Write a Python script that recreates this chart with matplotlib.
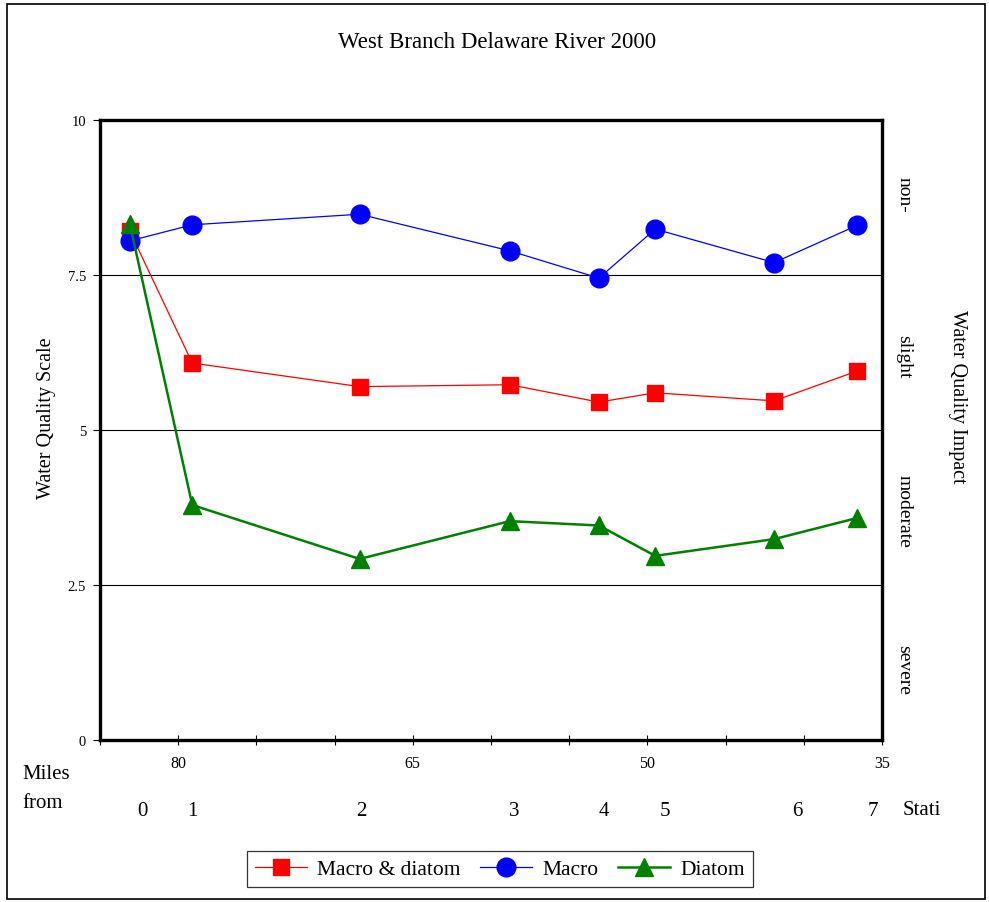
import matplotlib
matplotlib.use("Agg")
import matplotlib.pyplot as plt
from matplotlib.patches import Rectangle
import matplotlib.transforms as mtransforms

plt.rcParams['font.family'] = ['Liberation Serif', 'DejaVu Serif']

# ---- data ----
miles = [83.1, 79.1, 68.4, 58.8, 53.1, 49.5, 41.9, 36.6]
macro_diatom = [8.21, 6.08, 5.70, 5.73, 5.45, 5.60, 5.47, 5.95]
macro = [8.05, 8.31, 8.48, 7.89, 7.45, 8.24, 7.70, 8.30]
diatom = [8.33, 3.79, 2.92, 3.53, 3.46, 2.97, 3.24, 3.58]
stations = ['0', '1', '2', '3', '4', '5', '6', '7']
station_label_miles = [82.3, 79.1, 68.3, 58.5, 52.8, 48.9, 40.4, 35.6]
x_ticks = [85, 80, 75, 70, 65, 60, 55, 50, 45, 40, 35]
x_labels = ['', '80', '', '', '65', '', '', '50', '', '', '35']
y_ticks = [0, 2.5, 5, 7.5, 10]
y_labels = ['0', '2.5', '5', '7.5', '10']
impact_labels = ['non-', 'slight', 'moderate', 'severe']
impact_y = [8.8, 6.2, 3.7, 1.15]

fig = plt.figure(figsize=(9.89, 9.03), dpi=100)
fig.patches.append(Rectangle((7/989, 3/903), 978/989, 895/903, transform=fig.transFigure,
                             fill=False, edgecolor='black', linewidth=1.2))

ax = fig.add_axes([100/989, 1-741/903, 782/989, 620/903])
ax.set_xlim(85, 35)
ax.set_ylim(0, 10)

for yv in [2.5, 5, 7.5]:
    ax.axhline(yv, color='black', linewidth=0.8, zorder=1)

ax.plot(miles, macro_diatom, color='red', linewidth=0.9, marker='s', markersize=12,
        label='Macro & diatom', zorder=3)
ax.plot(miles, macro, color='blue', linewidth=0.9, marker='o', markersize=13.5,
        label='Macro', zorder=4)
ax.plot(miles, diatom, color='green', linewidth=1.8, marker='^', markersize=13,
        label='Diatom', zorder=5, clip_on=False)

for s in ax.spines.values():
    s.set_linewidth(2.4)

ax.set_xticks(x_ticks)
ax.set_xticklabels(x_labels, fontsize=11.5)
ax.set_yticks(y_ticks)
ax.set_yticklabels(y_labels, fontsize=10.5)
ax.tick_params(axis='x', direction='inout', length=7, width=0.8, pad=7)
ax.tick_params(axis='y', direction='out', length=5, width=0.8, pad=5)

ax.set_ylabel('Water Quality Scale', fontsize=14.5)
ax.yaxis.set_label_coords(-0.056, 0.52)

trans = mtransforms.blended_transform_factory(ax.transData, ax.transAxes)
for lab, xm in zip(stations, station_label_miles):
    ax.text(xm, -0.113, lab, transform=trans, ha='center', va='center', fontsize=15)

fig.text(22/989, 1-775/903, 'Miles', fontsize=15, ha='left', va='center')
fig.text(22/989, 1-804/903, 'from', fontsize=15, ha='left', va='center')
fig.text(903/989, 1-811/903, 'Stati', fontsize=15, ha='left', va='center')

for lab, yv in zip(impact_labels, impact_y):
    ax.text(1.028, yv, lab, transform=mtransforms.blended_transform_factory(ax.transAxes, ax.transData),
            rotation=-90, ha='center', va='center', fontsize=14)
fig.text(957/989, 1-397/903, 'Water Quality Impact', rotation=-90, fontsize=14.5,
         ha='center', va='center')

fig.text(497/989, 1-43/903, 'West Branch Delaware River 2000', fontsize=16.5,
         ha='center', va='center')

leg = fig.legend(loc='center', bbox_to_anchor=(500/989, 1-870/903), ncol=3,
                 fontsize=15.5, frameon=True, fancybox=False, handlelength=2.4,
                 columnspacing=0.9, handletextpad=0.5, borderpad=0.35)
leg.get_frame().set_edgecolor('black')
leg.get_frame().set_linewidth(0.9)

fig.savefig('out.png', dpi=100)
